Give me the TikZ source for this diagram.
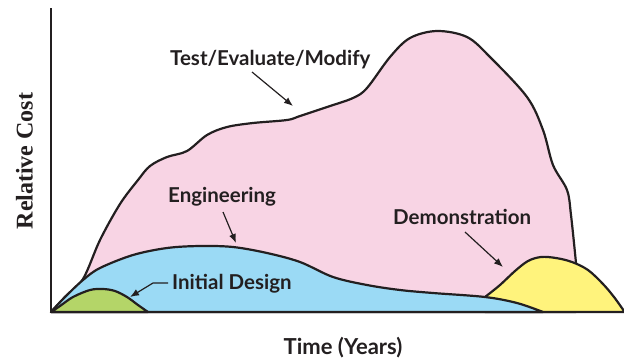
\documentclass[tikz,border=0pt]{standalone}
\usepackage{fontspec}
\newfontfamily\labfont{Lato}
\newfontfamily\serfont{Liberation Serif}
\usetikzlibrary{arrows.meta}
\definecolor{pinkc}{RGB}{248,212,228}
\definecolor{bluec}{RGB}{155,218,245}
\definecolor{greenc}{RGB}{180,213,104}
\definecolor{yellowc}{RGB}{255,243,124}
\definecolor{ink}{RGB}{35,31,32}
\tikzset{
  region/.style={draw=ink, line width=2.2pt, line join=round},
  lab/.style={font=\labfont\bfseries\fontsize{20.5}{24}\selectfont, text=ink, inner sep=0pt},
  arr/.style={draw=ink, line width=1.2pt, -{Latex[length=9pt,width=7pt]}},
  axis/.style={draw=ink, line width=2.8pt}
}
\begin{document}
\begin{tikzpicture}[x=1pt,y=-1pt]
\useasboundingbox (0,0) rectangle (624,360);
% Test/Evaluate/Modify region
\path[region, fill=pinkc] plot[smooth, tension=0.55] coordinates {(51,312) (65,297) (83,279) (100,240) (120,204) (138,180) (150,166) (167,157) (187,151) (207,135) (227,127) (253,123) (287,120) (300,116) (327,107) (353,98) (367,88) (390,57) (410,38) (437,31) (467,37) (490,57) (527,97) (543,130) (553,165) (567,190) (571,215) (576,263)} -- (576,312) -- cycle;
% Demonstration region
\path[region, fill=yellowc] plot[smooth, tension=0.55] coordinates {(485,297) (500,285) (515,271) (528,261) (541,257) (556,258) (572,262) (588,270) (603,284) (614,297) (624,311)} -- (624,312) -- (485,312) -- cycle;
% Engineering region
\path[region, fill=bluec] plot[smooth, tension=0.55] coordinates {(51,312) (65,297) (83,280) (100,268) (133,255) (167,248) (200,246) (233,247) (267,253) (300,262) (333,277) (367,285) (400,290) (433,293) (485,297) (517,303) (543,312)} -- cycle;
% Initial Design region
\path[region, fill=greenc] plot[smooth, tension=0.55] coordinates {(51,312) (60,306) (73,297) (90,290) (103,289) (115,291) (127,297) (138,305) (148,312)} -- cycle;
% axes
\coordinate (ytop) at (51,9);
\coordinate (orig) at (51,312);
\coordinate (xend) at (624,312);
\draw[axis, line cap=rect] (ytop) -- (orig) -- (xend);
% labels
\node[lab, anchor=base west] (tem) at (170,65.5) {Test/Evaluate/Modify};
\node[lab, anchor=base west] (eng) at (168,202) {Engineering};
\node[lab, anchor=base west] (ini) at (172,289) {Initial Design};
\node[lab, anchor=base west] (dem) at (393,224) {Demonstration};
\node[lab, font=\labfont\bfseries\fontsize{22}{26}\selectfont, anchor=base] (tim) at (343,354) {Time (Years)};
\node[font=\serfont\bfseries\fontsize{24}{28}\selectfont, text=ink, inner sep=0pt, rotate=90, anchor=base] (rel) at (32.5,161) {Relative Cost};
% arrows
\coordinate (a1s) at (252,72);
\coordinate (a1e) at (293,106);
\draw[arr] (a1s) -- (a1e);
\coordinate (a2s) at (223,212);
\coordinate (a2e) at (236,243);
\draw[arr] (a2s) -- (a2e);
\coordinate (a3s) at (168,283);
\coordinate (a3k) at (153,283);
\coordinate (a3e) at (130,297);
\draw[arr] (a3s) -- (a3k) -- (a3e);
\coordinate (a4s) at (465,232);
\coordinate (a4e) at (503,267);
\draw[arr] (a4s) -- (a4e);
\end{tikzpicture}
\end{document}
